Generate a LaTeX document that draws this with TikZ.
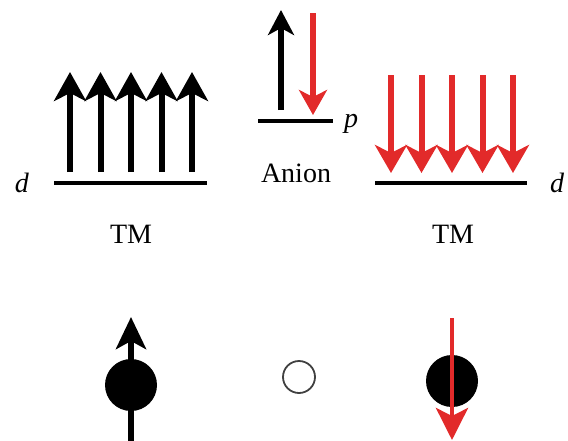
\documentclass[tikz,border=0pt]{standalone}
\usepackage{fontspec}
\setmainfont{Liberation Serif}
\usetikzlibrary{arrows.meta}
\definecolor{spinred}{RGB}{226,42,42}
\tikzset{
  lbl/.style={inner sep=0pt, anchor=base, font=\fontsize{28}{30}\selectfont},
  level/.style={line width=4pt, black},
  bigup/.style={line width=6pt, black, -{Stealth[length=29pt,width=32pt,inset=8pt]}},
  bigdown/.style={line width=6pt, spinred, -{Stealth[length=28pt,width=32pt,inset=8pt]}},
  smallup/.style={line width=5.5pt, black, -{Stealth[length=25pt,width=26pt,inset=7pt]}},
  smalldown/.style={line width=5.5pt, spinred, -{Stealth[length=25pt,width=28pt,inset=7pt]}},
  atom/.style={circle, fill=black, minimum size=52pt, inner sep=0pt},
  vac/.style={circle, draw=black!75, line width=1.8pt, minimum size=32pt, inner sep=0pt},
}
\begin{document}
\begin{tikzpicture}[x=1pt,y=-1pt]
\useasboundingbox (0,0) rectangle (568,440);
% left TM d level
\coordinate (dl1) at (54,183); \coordinate (dl2) at (207,183);
\draw[level] (dl1) -- (dl2);
\foreach \i in {0,...,4}{
  \coordinate (ua\i) at ({70+30.5*\i},172);
  \coordinate (ub\i) at ({70+30.5*\i},72);
  \draw[bigup] (ua\i) -- (ub\i);
}
\node[lbl, font=\fontsize{28}{30}\selectfont\itshape] (dL) at (22,192) {d};
\node[lbl] (tmL) at (131,243) {TM};
% anion p level
\coordinate (pl1) at (258,121); \coordinate (pl2) at (333,121);
\draw[level] (pl1) -- (pl2);
\coordinate (pa1) at (281,110); \coordinate (pa2) at (281,10);
\draw[smallup] (pa1) -- (pa2);
\coordinate (pb1) at (313,13); \coordinate (pb2) at (313,115);
\draw[smalldown] (pb1) -- (pb2);
\node[lbl, font=\fontsize{28}{30}\selectfont\itshape] (pL) at (351,127) {p};
\node[lbl] (an) at (296,182) {Anion};
% right TM d level
\coordinate (dr1) at (375,183); \coordinate (dr2) at (527,183);
\draw[level] (dr1) -- (dr2);
\foreach \i in {0,...,4}{
  \coordinate (da\i) at ({391+30.5*\i},75);
  \coordinate (db\i) at ({391+30.5*\i},173);
  \draw[bigdown] (da\i) -- (db\i);
}
\node[lbl, font=\fontsize{28}{30}\selectfont\itshape] (dR) at (557,192) {d};
\node[lbl] (tmR) at (453,243) {TM};
% bottom row
\node[atom] (A1) at (131,385) {};
\coordinate (A1b) at (131,442); \coordinate (A1t) at (131,317);
\draw[line width=6pt, black, -{Stealth[length=32pt,width=30pt,inset=8pt]}] (A1b) -- (A1t);
\node[vac] (V) at (299,377) {};
\node[atom] (A2) at (452,381) {};
\coordinate (A2t) at (452,318); \coordinate (A2b) at (452,440);
\draw[line width=4.5pt, spinred, -{Stealth[length=32pt,width=32pt,inset=8pt]}] (A2t) -- (A2b);
\end{tikzpicture}
\end{document}
